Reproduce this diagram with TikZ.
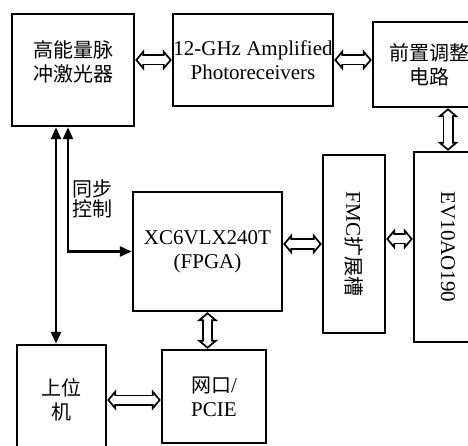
\documentclass[tikz,border=0pt]{standalone}
\usepackage{fontspec}
\usepackage{graphicx}
\setmainfont{Liberation Serif}
\newfontfamily\cjk{Noto Sans CJK SC}
\newcommand\zh[1]{{\cjk\fontsize{20}{24}\selectfont #1}}
\usetikzlibrary{arrows.meta,positioning}

\begin{document}
\begin{tikzpicture}[x=1pt,y=-1pt,
  box/.style={draw, rectangle, line width=2.4pt, align=center, inner sep=0pt,
    font=\fontsize{21}{24}\selectfont},
  sig/.style={line width=2.4pt, {Triangle[length=12pt,width=10pt]}-{Triangle[length=12pt,width=10pt]}},
  hollow/.style={line width=11pt, {Triangle[length=9pt,width=21pt]}-{Triangle[length=9pt,width=21pt]},
    postaction={draw=white, line width=7.4pt, shorten >=2.4pt, shorten <=2.4pt,
      {Triangle[length=4.8pt,width=11pt]}-{Triangle[length=4.8pt,width=11pt]}}}]
  \useasboundingbox (0,0) rectangle (468,446);
  \clip (0,0) rectangle (468,446);
  % boxes
  \node[box, minimum width=122, minimum height=112, text depth=18pt] (laser) at (73,70) {\zh{高能量脉}\\\zh{冲激光器}};
  \node[box, minimum width=160, minimum height=92] (pd) at (253,60) {12-GHz Amplified\\Photoreceivers};
  \node[box, minimum width=112, minimum height=85] (pre) at (429,64.5) {\zh{前置调整}\\\zh{电路}};
  \node[box, minimum width=68, minimum height=190] (adc) at (448,247) {\rotatebox{-90}{EV10AO190}};
  \node[box, minimum width=62, minimum height=178] (fmc) at (354,244) {\rotatebox{-90}{FMC\zh{扩展槽}}};
  \node[box, minimum width=149, minimum height=119] (fpga) at (207.5,251.5) {XC6VLX240T\\(FPGA)};
  \node[box, minimum width=89, minimum height=110] (host) at (61.5,400) {\zh{上位}\\\zh{机}};
  \node[box, minimum width=104, minimum height=93] (net) at (214,396.5) {\zh{网口}/\\PCIE};
  % data paths
  \draw[hollow] (laser.east |- pd.west) -- (pd.west);
  \draw[hollow] (pd.east) -- (pd.east -| pre.west);
  \draw[hollow] (pre.south -| adc.north) -- (adc.north);
  \draw[hollow] (fpga.east |- fmc.west) -- (fmc.west);
  \draw[hollow] ([yshift=5pt]fmc.east) -- ([yshift=5pt]fmc.east -| adc.west);
  \draw[hollow] (fpga.south) -- (fpga.south |- net.north);
  \draw[hollow] (host.east) -- (host.east -| net.west);
  % sync lines
  \draw[sig] ([xshift=-17pt]laser.south) -- ([xshift=-17pt]laser.south |- host.north);
  \draw[sig] ([xshift=-5pt]laser.south) |- (fpga.west);
  \node[align=left, inner sep=0pt] (sync) at (92,199) {\zh{同步}\\\zh{控制}};
\end{tikzpicture}
\end{document}
